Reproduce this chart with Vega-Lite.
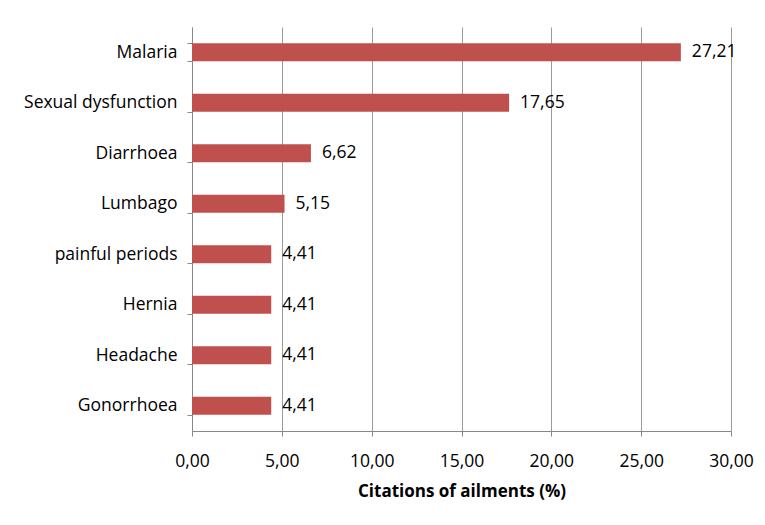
{
  "$schema": "https://vega.github.io/schema/vega-lite/v6.json",
  "autosize": {"type": "none"},
  "width": 539,
  "height": 404,
  "padding": {"left": 192, "top": 27, "right": 34, "bottom": 94},
  "background": "white",
  "config": {
    "locale": {"number": {"decimal": ",", "thousands": ".", "grouping": [3], "currency": ["", ""]}},
    "view": {"stroke": null},
    "font": "Open Sans"
  },
  "data": {"values": [
    {"ailment": "Malaria", "value": 27.21},
    {"ailment": "Sexual dysfunction", "value": 17.65},
    {"ailment": "Diarrhoea", "value": 6.62},
    {"ailment": "Lumbago", "value": 5.15},
    {"ailment": "painful periods", "value": 4.41},
    {"ailment": "Hernia", "value": 4.41},
    {"ailment": "Headache", "value": 4.41},
    {"ailment": "Gonorrhoea", "value": 4.41}
  ]},
  "encoding": {
    "y": {
      "field": "ailment", "type": "nominal", "sort": null,
      "scale": {"paddingInner": 0.64, "paddingOuter": 0.32},
      "axis": {
        "title": null, "tickBand": "extent", "tickSize": 5, "tickColor": "#888888",
        "domainColor": "#888888", "labelFontSize": 17.5, "labelColor": "#000000",
        "labelPadding": 10, "labelFont": "Open Sans"
      }
    },
    "x": {
      "field": "value", "type": "quantitative",
      "scale": {"domain": [0, 30], "nice": false},
      "axis": {
        "title": "Citations of ailments (%)", "values": [0, 5, 10, 15, 20, 25, 30],
        "format": ".2f", "grid": true, "gridColor": "#9a9a9a", "tickColor": "#888888",
        "domainColor": "#888888", "tickSize": 5, "labelFontSize": 17.5, "labelColor": "#000000",
        "labelPadding": 16, "labelFlush": false, "titleFontSize": 17, "titleFontWeight": "bold",
        "titleColor": "#000000", "titlePadding": 14
      }
    }
  },
  "layer": [
    {"mark": {"type": "bar", "color": "#C0504D"}},
    {
      "mark": {"type": "text", "align": "left", "dx": 11, "fontSize": 17.5, "color": "#000000"},
      "encoding": {"text": {"field": "value", "type": "quantitative", "format": ".2f"}}
    }
  ]
}
